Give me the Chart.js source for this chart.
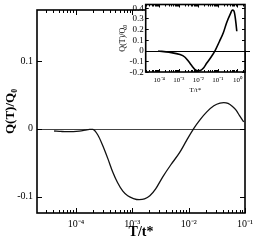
<!DOCTYPE html>
<html><head><meta charset="utf-8">
<script src="https://cdn.jsdelivr.net/npm/chart.js@4"></script>
<style>html,body{margin:0;padding:0;background:#fff}#wrap{position:relative;width:258px;height:242px}canvas{position:absolute;left:0;top:0}</style>
</head><body><div id="wrap"><canvas id="main" width="258" height="242"></canvas><canvas id="inset" width="258" height="242"></canvas></div>
<script>
// ---- main panel data ----
const mainT = [4.1e-5, 5.5e-5, 7e-5, 9e-5, 1.15e-4, 1.45e-4, 1.75e-4, 2.0e-4, 2.45e-4, 3.0e-4, 3.7e-4, 4.5e-4, 5.5e-4, 6.8e-4, 8.3e-4, 1.05e-3, 1.32e-3, 1.65e-3, 2.05e-3, 2.6e-3, 3.5e-3, 4.8e-3, 6.9e-3, 9.2e-3, 1.22e-2, 1.6e-2, 2.1e-2, 2.8e-2, 3.6e-2, 4.2e-2, 5e-2, 6e-2, 7e-2, 8e-2, 9.5e-2];
const mainQ = [-0.0032, -0.0039, -0.0042, -0.0041, -0.0034, -0.002, -0.0007, -0.0009, -0.0091, -0.025, -0.0443, -0.0636, -0.0795, -0.0919, -0.0987, -0.1027, -0.1044, -0.1033, -0.0987, -0.0885, -0.0704, -0.0533, -0.0352, -0.017, 0.0, 0.0136, 0.025, 0.034, 0.038, 0.0386, 0.0375, 0.0329, 0.0272, 0.0193, 0.0102];
const mainYTicks = [-0.1, 0, 0.1];
const mainXTicks = [1e-4, 1e-3, 1e-2, 1e-1];
// ---- inset data ----
const insetT = [8.7e-5, 3.16e-4, 1.15e-3, 2.0e-3, 3.1e-3, 5e-3, 6.8e-3, 1e-2, 1.23e-2, 1.78e-2, 2.7e-2, 4.5e-2, 7.2e-2, 0.12, 0.19, 0.28, 0.43, 0.55, 0.66, 0.76, 0.85, 0.93];
const insetQ = [-0.004, -0.016, -0.037, -0.06, -0.10, -0.15, -0.178, -0.188, -0.187, -0.165, -0.116, -0.06, 0.0, 0.085, 0.166, 0.26, 0.34, 0.378, 0.37, 0.32, 0.25, 0.18];
const insetYTicks = [-0.2, -0.1, 0, 0.1, 0.2, 0.3, 0.4];
const insetYTickLabels = ['-0.2', '-0.1', '0', '0.1', '0.2', '0.3', '0.4'];
const insetXTicks = [1e-4, 1e-3, 1e-2, 1e-1, 1];

const SUP = {'-':'\u207B','0':'\u2070','1':'\u00B9','2':'\u00B2','3':'\u00B3','4':'\u2074'};
function decadeLabel(v){ const e = Math.round(Math.log10(v)); return '10' + String(e).split('').map(c => SUP[c]).join(''); }
const SERIF = "'Liberation Serif','Times New Roman',serif";

function framePlugin(o){
  return {
    id: 'frame',
    beforeDraw(chart){
      const {ctx, chartArea:a, scales:{y}} = chart;
      ctx.save();
      if (o.bg) { ctx.fillStyle = '#fff'; ctx.fillRect(0,0,chart.width,chart.height); }
      if (o.cover) {
        ctx.fillStyle = '#fff';
        ctx.fillRect(a.left, a.top, a.right-a.left, a.bottom-a.top);
        ctx.fillRect(a.right, 3.5, 6, y.getPixelForValue(0) - 3.5);
      }
      ctx.restore();
    },
    beforeDatasetsDraw(chart){
      const {ctx, chartArea:a, scales:{y}} = chart;
      const py = Math.round(y.getPixelForValue(0)) + 0.5;
      ctx.save(); ctx.strokeStyle = o.zeroColor; ctx.lineWidth = 1;
      ctx.beginPath(); ctx.moveTo(a.left, py); ctx.lineTo(a.right + (o.zeroExt||0), py); ctx.stroke();
      ctx.restore();
    },
    afterDraw(chart){
      const {ctx, chartArea:a, scales:{x,y}} = chart;
      ctx.save(); ctx.strokeStyle = '#000';
      const line = (x1,y1,x2,y2) => { ctx.beginPath(); ctx.moveTo(x1,y1); ctx.lineTo(x2,y2); ctx.stroke(); };
      ctx.lineWidth = 1;
      const lo = Math.floor(Math.log10(x.min)), hi = Math.ceil(Math.log10(x.max));
      for (let e = lo; e <= hi; e++) for (let m = 1; m < 10; m++) {
        const v = m * Math.pow(10, e);
        if (v < x.min || v > x.max) continue;
        const px = Math.round(x.getPixelForValue(v)) + 0.5;
        const L = m === 1 ? o.major : o.minor;
        line(px, a.bottom, px, a.bottom - L); line(px, a.top, px, a.top + L);
      }
      for (const v of o.yTicks) {
        const py = Math.round(y.getPixelForValue(v)) + 0.5;
        line(a.left, py, a.left + o.major, py); line(a.right, py, a.right - o.major, py);
      }
      ctx.lineWidth = o.lw;
      ctx.strokeRect(a.left, a.top, a.right - a.left, a.bottom - a.top);
      if (o.yLabels) {
        ctx.fillStyle = '#000'; ctx.font = o.yLabelFont; ctx.textAlign = 'right'; ctx.textBaseline = 'middle';
        o.yTicks.forEach((v, i) => ctx.fillText(o.yLabels[i], a.left - 2, y.getPixelForValue(v) + 0.5));
      }
      ctx.restore();
    }
  };
}

new Chart(document.getElementById('main'), {
  type: 'line',
  data: { datasets: [{ data: mainT.map((t,i) => ({x:t, y:mainQ[i]})), borderColor: '#111', borderWidth: 1.3, pointRadius: 0, cubicInterpolationMode: 'monotone', fill: false }] },
  options: {
    responsive: false, devicePixelRatio: 1, animation: false,
    layout: { padding: { left: 0, right: 10, top: 2, bottom: 0 } },
    plugins: { legend: { display: false }, tooltip: { enabled: false } },
    scales: {
      x: { type: 'logarithmic', min: 2.04e-5, max: 0.1,
        grid: { display: false, drawTicks: false }, border: { display: false },
        afterBuildTicks: s => { s.ticks = mainXTicks.map(v => ({value: v})); },
        afterFit: s => { s.height = 29; },
        ticks: { autoSkip: false, maxRotation: 0, padding: 5, color: '#000', font: { family: SERIF, size: 10 }, callback: v => decadeLabel(v) },
        title: { display: true, text: 'T/t*', color: '#000', font: { family: SERIF, size: 14, weight: 'bold' }, padding: { top: 0, bottom: 1 } } },
      y: { type: 'linear', min: -0.124, max: 0.175,
        grid: { display: false, drawTicks: false }, border: { display: false },
        afterBuildTicks: s => { s.ticks = mainYTicks.map(v => ({value: v})); },
        afterFit: s => { s.width = 37; },
        ticks: { autoSkip: false, padding: 4, color: '#000', font: { family: SERIF, size: 10 }, callback: v => String(v) },
        title: { display: true, text: 'Q(T)/Q\u2080', color: '#000', font: { family: SERIF, size: 13, weight: 'bold' }, padding: { top: 3, bottom: 0 } } }
    }
  },
  plugins: [framePlugin({ bg: true, lw: 1.6, major: 5, minor: 3, yTicks: mainYTicks, zeroColor: '#444' })]
});

new Chart(document.getElementById('inset'), {
  type: 'line',
  data: { datasets: [{ data: insetT.map((t,i) => ({x:t, y:insetQ[i]})), borderColor: '#000', borderWidth: 1.6, pointRadius: 0, cubicInterpolationMode: 'monotone', fill: false }] },
  options: {
    responsive: false, devicePixelRatio: 1, animation: false,
    layout: { padding: { left: 118, right: 13, top: 4.5, bottom: 146 } },
    plugins: { legend: { display: false }, tooltip: { enabled: false } },
    scales: {
      x: { type: 'logarithmic', min: 2e-5, max: 2.45,
        grid: { display: false, drawTicks: false }, border: { display: false },
        afterBuildTicks: s => { s.ticks = insetXTicks.map(v => ({value: v})); },
        afterFit: s => { s.height = 24; },
        ticks: { autoSkip: false, maxRotation: 0, padding: 4, color: '#000', font: { family: SERIF, size: 7 }, callback: v => decadeLabel(v) },
        title: { display: true, text: 'T/t*', color: '#000', font: { family: SERIF, size: 7 }, padding: { top: 0, bottom: 2 } } },
      y: { type: 'linear', min: -0.2, max: 0.43,
        grid: { display: false, drawTicks: false }, border: { display: false },
        afterFit: s => { s.width = 27.7; },
        ticks: { display: false },
        title: { display: true, text: 'Q(T)/Q\u2080', color: '#000', font: { family: SERIF, size: 8 }, padding: { top: 0, bottom: 0 } } }
    }
  },
  plugins: [framePlugin({ cover: true, lw: 1.6, major: 3, minor: 2, yTicks: insetYTicks, yLabels: insetYTickLabels, yLabelFont: "9px " + SERIF, zeroColor: '#000', zeroExt: 5 })]
});
</script>
</body></html>
